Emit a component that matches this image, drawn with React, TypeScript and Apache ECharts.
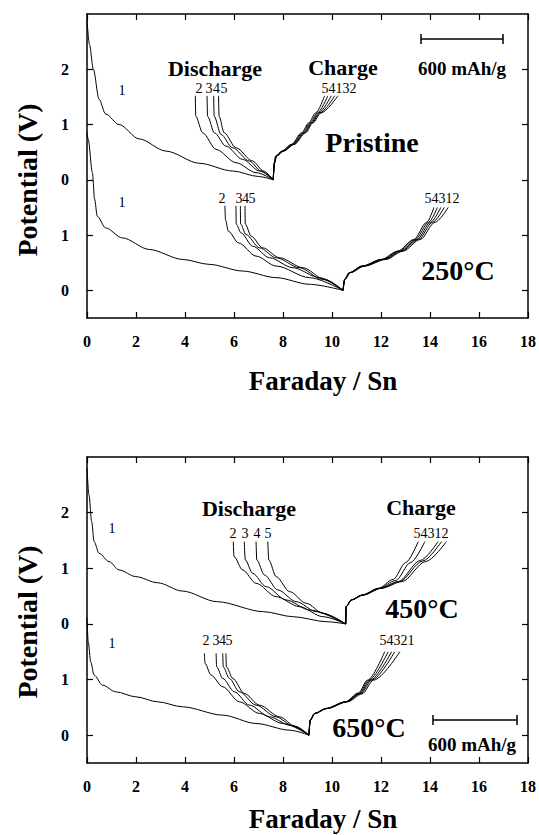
import React, { useEffect, useRef } from "react";
import * as echarts from "echarts";

const FONT = "'Liberation Serif', 'Times New Roman', serif";

// x axis ticks (Faraday / Sn)
const xMin = 0;
const xMax = 18;
const xStep = 2;
// y ticks (stacked, upper curve offset by 2 V)
const yTickValues = [0, 1, 2, 3, 4];
const yTickLabels = ["0", "1", "0", "1", "2"];
const upperOffset = 2;

// ---------- Pristine (upper, top panel) ----------
const pristineDis1 = [[0, 2.9], [0.1, 2.45], [0.26, 2.0], [0.49, 1.46], [0.76, 1.19], [1.31, 1.0], [2.13, 0.74], [3.22, 0.52], [4.58, 0.3], [5.94, 0.16], [7.0, 0.06], [7.6, 0]];
const pristineDis2 = [[4.42, 1.52], [4.44, 1.15], [4.72, 0.85], [5.27, 0.55], [6.08, 0.31], [6.9, 0.13], [7.6, 0]];
const pristineDis3 = [[4.9, 1.52], [4.92, 1.15], [5.2, 0.85], [5.67, 0.61], [6.35, 0.37], [7.04, 0.16], [7.6, 0]];
const pristineDis4 = [[5.17, 1.52], [5.19, 1.15], [5.47, 0.82], [5.94, 0.58], [6.63, 0.34], [7.1, 0.16], [7.6, 0]];
const pristineDis5 = [[5.37, 1.52], [5.39, 1.15], [5.6, 0.85], [6.08, 0.58], [6.76, 0.34], [7.2, 0.16], [7.6, 0]];
const pristineChg1 = [[7.6, 0], [7.65, 0.31], [7.72, 0.43], [7.99, 0.52], [8.4, 0.64], [8.85, 0.85], [9.15, 1.03], [9.45, 1.21], [9.97, 1.52]];
const pristineChg2 = [[7.6, 0], [7.66, 0.31], [7.74, 0.43], [8.03, 0.52], [8.46, 0.64], [8.92, 0.85], [9.22, 1.03], [9.55, 1.21], [10.24, 1.52]];
const pristineChg3 = [[7.6, 0], [7.66, 0.31], [7.73, 0.43], [8.01, 0.52], [8.43, 0.64], [8.88, 0.85], [9.19, 1.03], [9.5, 1.21], [10.11, 1.52]];
const pristineChg4 = [[7.6, 0], [7.65, 0.31], [7.71, 0.43], [7.97, 0.52], [8.37, 0.64], [8.8, 0.85], [9.1, 1.03], [9.4, 1.21], [9.83, 1.52]];
const pristineChg5 = [[7.6, 0], [7.64, 0.31], [7.7, 0.43], [7.95, 0.52], [8.34, 0.64], [8.76, 0.85], [9.05, 1.03], [9.33, 1.21], [9.7, 1.52]];

// ---------- 250°C (lower, top panel) ----------
const t250Dis1 = [[0, 2.86], [0.05, 2.73], [0.22, 2.13], [0.31, 1.65], [0.42, 1.34], [0.76, 1.13], [1.44, 0.95], [2.54, 0.74], [3.9, 0.56], [4.99, 0.47], [6.35, 0.35], [7.72, 0.23], [9.08, 0.11], [10.45, 0]];
const t250Dis2 = [[5.63, 1.53], [5.65, 1.28], [5.77, 1.07], [6.18, 0.86], [6.9, 0.62], [7.72, 0.44], [9.08, 0.23], [10.45, 0]];
const t250Dis3 = [[6.08, 1.53], [6.09, 1.2], [6.29, 1.04], [6.76, 0.8], [7.45, 0.59], [8.4, 0.41], [9.49, 0.23], [10.45, 0]];
const t250Dis4 = [[6.26, 1.53], [6.27, 1.2], [6.49, 1.01], [7.04, 0.77], [7.72, 0.59], [8.67, 0.41], [9.6, 0.2], [10.45, 0]];
const t250Dis5 = [[6.45, 1.53], [6.46, 1.2], [6.7, 0.98], [7.17, 0.77], [7.86, 0.59], [8.81, 0.41], [9.7, 0.2], [10.45, 0]];
const t250Chg1 = [[10.45, 0], [10.52, 0.2], [10.73, 0.32], [11.3, 0.44], [12.14, 0.56], [12.84, 0.71], [13.53, 0.92], [14.1, 1.23], [14.58, 1.5]];
const t250Chg2 = [[10.45, 0], [10.53, 0.2], [10.75, 0.32], [11.34, 0.44], [12.2, 0.56], [12.9, 0.71], [13.6, 0.92], [14.2, 1.23], [14.74, 1.5]];
const t250Chg3 = [[10.45, 0], [10.52, 0.2], [10.72, 0.32], [11.27, 0.44], [12.1, 0.56], [12.79, 0.71], [13.47, 0.92], [14.02, 1.23], [14.44, 1.5]];
const t250Chg4 = [[10.45, 0], [10.52, 0.2], [10.71, 0.32], [11.24, 0.44], [12.05, 0.56], [12.73, 0.71], [13.4, 0.92], [13.94, 1.23], [14.3, 1.5]];
const t250Chg5 = [[10.45, 0], [10.51, 0.2], [10.7, 0.32], [11.22, 0.44], [12.01, 0.56], [12.68, 0.71], [13.34, 0.92], [13.86, 1.23], [14.16, 1.5]];

// ---------- 450°C (upper, bottom panel) ----------
const t450Dis1 = [[0, 2.8], [0.08, 2.32], [0.19, 1.84], [0.29, 1.48], [0.49, 1.27], [0.9, 1.12], [1.31, 0.97], [1.99, 0.85], [2.88, 0.74], [3.9, 0.59], [5.3, 0.4], [7.2, 0.22], [8.4, 0.13], [9.77, 0.04], [10.56, 0]];
const t450Dis2 = [[5.97, 1.48], [6.0, 1.21], [6.35, 0.97], [6.9, 0.73], [7.72, 0.49], [8.67, 0.31], [9.63, 0.13], [10.56, 0]];
const t450Dis3 = [[6.42, 1.48], [6.46, 1.15], [6.76, 0.91], [7.31, 0.67], [8.13, 0.43], [9.08, 0.25], [10.56, 0]];
const t450Dis4 = [[6.9, 1.48], [6.93, 1.15], [7.24, 0.88], [7.79, 0.61], [8.54, 0.4], [9.36, 0.22], [10.56, 0]];
const t450Dis5 = [[7.38, 1.48], [7.42, 1.15], [7.72, 0.85], [8.27, 0.58], [8.95, 0.37], [9.63, 0.19], [10.56, 0]];
const t450Chg1 = [[10.56, 0], [10.58, 0.31], [10.79, 0.43], [11.26, 0.52], [11.98, 0.64], [12.75, 0.76], [13.7, 1.13], [14.47, 1.48]];
const t450Chg2 = [[10.56, 0], [10.58, 0.31], [10.8, 0.43], [11.28, 0.52], [12.02, 0.64], [12.85, 0.76], [13.82, 1.12], [14.67, 1.48]];
const t450Chg3 = [[10.56, 0], [10.58, 0.31], [10.79, 0.43], [11.25, 0.52], [11.95, 0.64], [12.7, 0.76], [13.6, 1.14], [14.33, 1.48]];
const t450Chg4 = [[10.56, 0], [10.57, 0.31], [10.78, 0.43], [11.24, 0.52], [11.92, 0.64], [12.6, 0.78], [13.2, 1.1], [13.79, 1.48]];
const t450Chg5 = [[10.56, 0], [10.57, 0.31], [10.78, 0.43], [11.23, 0.52], [11.9, 0.64], [12.5, 0.8], [13.0, 1.1], [13.52, 1.48]];

// ---------- 650°C (lower, bottom panel) ----------
const t650Dis1 = [[0, 2.12], [0.05, 1.68], [0.15, 1.32], [0.29, 1.08], [0.63, 0.9], [1.17, 0.78], [1.99, 0.69], [2.88, 0.6], [3.9, 0.51], [5.54, 0.36], [6.9, 0.21], [8.27, 0.09], [9.06, 0]];
const t650Dis2 = [[4.79, 1.47], [4.82, 1.29], [5.06, 1.08], [5.54, 0.87], [6.22, 0.6], [7.04, 0.39], [7.99, 0.21], [9.06, 0]];
const t650Dis3 = [[5.27, 1.47], [5.29, 1.23], [5.54, 1.02], [6.01, 0.78], [6.63, 0.54], [7.45, 0.33], [8.27, 0.18], [9.06, 0]];
const t650Dis4 = [[5.54, 1.47], [5.56, 1.23], [5.81, 1.02], [6.22, 0.78], [6.9, 0.54], [7.72, 0.33], [8.4, 0.17], [9.06, 0]];
const t650Dis5 = [[5.67, 1.47], [5.69, 1.23], [5.95, 1.02], [6.42, 0.75], [7.04, 0.54], [7.86, 0.33], [8.5, 0.16], [9.06, 0]];
const t650Chg1 = [[9.06, 0], [9.11, 0.27], [9.3, 0.39], [9.8, 0.48], [10.64, 0.6], [11.22, 0.74], [11.7, 0.99], [12.77, 1.5]];
const t650Chg2 = [[9.06, 0], [9.11, 0.27], [9.3, 0.39], [9.79, 0.48], [10.61, 0.6], [11.18, 0.75], [11.62, 0.99], [12.56, 1.5]];
const t650Chg3 = [[9.06, 0], [9.11, 0.27], [9.29, 0.39], [9.77, 0.48], [10.58, 0.6], [11.14, 0.75], [11.56, 0.99], [12.43, 1.5]];
const t650Chg4 = [[9.06, 0], [9.11, 0.27], [9.29, 0.39], [9.76, 0.48], [10.56, 0.6], [11.11, 0.75], [11.5, 0.99], [12.29, 1.5]];
const t650Chg5 = [[9.06, 0], [9.1, 0.27], [9.28, 0.39], [9.75, 0.48], [10.54, 0.6], [11.08, 0.76], [11.45, 0.99], [12.15, 1.5]];

const topUpper = [pristineDis1, pristineDis2, pristineDis3, pristineDis4, pristineDis5, pristineChg1, pristineChg2, pristineChg3, pristineChg4, pristineChg5];
const topLower = [t250Dis1, t250Dis2, t250Dis3, t250Dis4, t250Dis5, t250Chg1, t250Chg2, t250Chg3, t250Chg4, t250Chg5];
const botUpper = [t450Dis1, t450Dis2, t450Dis3, t450Dis4, t450Dis5, t450Chg1, t450Chg2, t450Chg3, t450Chg4, t450Chg5];
const botLower = [t650Dis1, t650Dis2, t650Dis3, t650Dis4, t650Dis5, t650Chg1, t650Chg2, t650Chg3, t650Chg4, t650Chg5];

function mkSeries(data: number[][], offset: number, gi: number) {
  return {
    type: "line",
    xAxisIndex: gi * 2,
    yAxisIndex: gi * 2,
    data: data.map(([x, v]) => [x, v + offset]),
    symbol: "none",
    showSymbol: false,
    smooth: 0.3,
    smoothMonotone: "x",
    lineStyle: { color: "#000", width: 1 },
    silent: true,
    z: 3,
  };
}

function txt(text: string, x: number, y: number, size: number, bold: boolean, extra: any = {}) {
  return {
    type: "text",
    x,
    y,
    silent: true,
    ...extra,
    style: {
      text,
      fontFamily: FONT,
      fontSize: size,
      fontWeight: bold ? "bold" : "normal",
      fill: "#000",
      align: "center",
      verticalAlign: "middle",
    },
  };
}

function scaleBar(x1: number, x2: number, y: number) {
  const s = { stroke: "#000", lineWidth: 1.5 };
  return [
    { type: "line", silent: true, shape: { x1, y1: y, x2, y2: y }, style: s },
    { type: "line", silent: true, shape: { x1, y1: y - 5, x2: x1, y2: y + 5 }, style: s },
    { type: "line", silent: true, shape: { x1: x2, y1: y - 5, x2, y2: y + 5 }, style: s },
  ];
}

function xAxes(gi: number) {
  const base = {
    gridIndex: gi,
    type: "value",
    min: xMin,
    max: xMax,
    interval: xStep,
    splitLine: { show: false },
    axisLine: { show: true, onZero: false, lineStyle: { color: "#000", width: 1.5 } },
    axisTick: { show: true, inside: true, length: 6, lineStyle: { color: "#000", width: 1.2 } },
  };
  return [
    {
      ...base,
      position: "bottom",
      axisLabel: { show: true, margin: 15, fontFamily: FONT, fontSize: 16, fontWeight: "bold", color: "#000" },
    },
    { ...base, position: "top", axisLabel: { show: false } },
  ];
}

function yAxes(gi: number) {
  const base = {
    gridIndex: gi,
    type: "value",
    min: -0.5,
    max: 5,
    splitLine: { show: false },
    axisLine: { show: true, onZero: false, lineStyle: { color: "#000", width: 1.5 } },
    axisTick: { show: true, inside: true, length: 6, customValues: yTickValues, lineStyle: { color: "#000", width: 1.2 } },
  };
  return [
    {
      ...base,
      position: "left",
      axisLabel: {
        show: true,
        customValues: yTickValues,
        margin: 18,
        fontFamily: FONT,
        fontSize: 16,
        fontWeight: "bold",
        color: "#000",
        formatter: (v: number) => {
          const i = yTickValues.indexOf(Math.round(v));
          return i >= 0 ? yTickLabels[i] : "";
        },
      },
    },
    { ...base, position: "right", axisLabel: { show: false } },
  ];
}

export default function App() {
  const ref = useRef<HTMLDivElement>(null);
  useEffect(() => {
    document.body.style.margin = "0";
    if (!ref.current) return;
    const chart = echarts.init(ref.current, undefined, { renderer: "svg" });
    const series = [
      ...topUpper.map((d) => mkSeries(d, upperOffset, 0)),
      ...topLower.map((d) => mkSeries(d, 0, 0)),
      ...botUpper.map((d) => mkSeries(d, upperOffset, 1)),
      ...botLower.map((d) => mkSeries(d, 0, 1)),
    ];
    const graphic = [
      // axis titles
      txt("Potential (V)", 27, 180, 28, true, { rotation: Math.PI / 2 }),
      txt("Potential (V)", 27, 622, 28, true, { rotation: Math.PI / 2 }),
      txt("Faraday / Sn", 323, 381, 27, true),
      txt("Faraday / Sn", 323, 819, 27, true),
      // top panel
      txt("Discharge", 215, 68, 22, true),
      txt("Charge", 343, 67, 22, true),
      txt("600 mAh/g", 462, 68, 19, true),
      ...scaleBar(421, 503, 39),
      txt("Pristine", 372, 142, 28, true),
      txt("250°C", 458, 270, 28, true),
      txt("1", 122, 90, 14, false),
      txt("2", 199, 88, 14, false),
      txt("3", 209, 88, 14, false),
      txt("4", 216.5, 88, 14, false),
      txt("5", 224, 88, 14, false),
      txt("54132", 339, 88, 14, false),
      txt("1", 122, 202, 14, false),
      txt("2", 222, 198, 14, false),
      txt("3", 239, 198, 14, false),
      txt("4", 245.5, 198, 14, false),
      txt("5", 252, 198, 14, false),
      txt("54312", 442, 198, 14, false),
      // bottom panel
      txt("Discharge", 249, 508, 22, true),
      txt("Charge", 421, 507, 22, true),
      txt("450°C", 422, 608, 28, true),
      txt("650°C", 369, 727, 28, true),
      txt("600 mAh/g", 472, 744, 19, true),
      ...scaleBar(433, 517, 720),
      txt("1", 112, 528, 14, false),
      txt("2", 233, 533, 14, false),
      txt("3", 245, 533, 14, false),
      txt("4", 257, 533, 14, false),
      txt("5", 268, 533, 14, false),
      txt("54312", 431, 533, 14, false),
      txt("1", 112, 643, 14, false),
      txt("2", 206, 640, 14, false),
      txt("3", 216, 640, 14, false),
      txt("4", 222.5, 640, 14, false),
      txt("5", 229, 640, 14, false),
      txt("54321", 397, 640, 14, false),
    ];
    chart.setOption({
      animation: false,
      backgroundColor: "#fff",
      grid: [
        { left: 87, top: 14, width: 441, height: 304 },
        { left: 87, top: 457, width: 441, height: 306 },
      ],
      xAxis: [...xAxes(0), ...xAxes(1)],
      yAxis: [...yAxes(0), ...yAxes(1)],
      series,
      graphic,
    });
    return () => chart.dispose();
  }, []);
  return <div ref={ref} style={{ width: 539, height: 835 }} />;
}
